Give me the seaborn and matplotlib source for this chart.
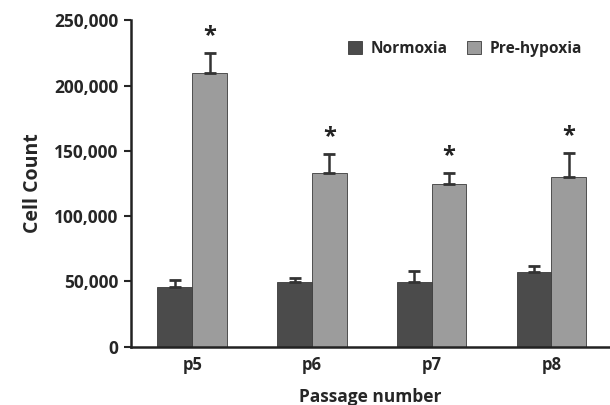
import numpy as np
import pandas as pd
import matplotlib
matplotlib.use("Agg")
import matplotlib.pyplot as plt
import seaborn as sns

passages = ["p5", "p6", "p7", "p8"]
groups = ["Normoxia", "Pre-hypoxia"]
normoxia = [45500, 49800, 49300, 57400]
normoxia_err = [5500, 3000, 8700, 4400]
prehypoxia = [209300, 133200, 124600, 129700]
prehypoxia_err = [15700, 14300, 8600, 18400]
yticks = [0, 50000, 100000, 150000, 200000, 250000]

sns.set_theme(style="white")
plt.rcParams['font.family'] = ['Open Sans', 'DejaVu Sans']
plt.rcParams['font.weight'] = 'bold'

df = pd.DataFrame({
    "passage": passages * 2,
    "group": [groups[0]] * 4 + [groups[1]] * 4,
    "count": normoxia + prehypoxia,
})

fig = plt.figure(figsize=(6.1, 4.05), dpi=100)
ax = fig.add_axes([0.215, 0.144, 0.785, 0.806])
sns.barplot(x="passage", y="count", hue="group", data=df, errorbar=None,
            palette=["#4b4b4b", "#9c9c9c"], width=0.58, saturation=1,
            edgecolor="#3a3a3a", linewidth=0.6, ax=ax)

errs = [normoxia_err, prehypoxia_err]
for cont, err in zip(ax.containers, errs):
    for bar, e in zip(cont, err):
        cx = bar.get_x() + bar.get_width() / 2
        h = bar.get_height()
        ax.errorbar(cx, h, yerr=[[0], [e]], fmt="none", ecolor="#333333",
                    elinewidth=1.8, capsize=4, capthick=2)
        if cont is ax.containers[1]:
            ax.text(cx, h + e + 13000, "*", ha="center", va="center",
                    fontsize=17, fontweight="bold", color="#222222")

ax.set_ylim(0, 250000)
ax.set_xlim(-0.51, 3.49)
ax.set_yticks(yticks)
ax.set_yticklabels([f"{v:,}" for v in yticks], fontsize=12.5, fontweight="bold")
ax.set_xticklabels(passages, fontsize=12, fontweight="bold")
ax.tick_params(axis="y", direction="out", length=5, width=1.5, left=True, pad=4)
ax.tick_params(axis="x", length=0, pad=7)
for s in ["top", "right"]:
    ax.spines[s].set_visible(False)
for s in ["left", "bottom"]:
    ax.spines[s].set_linewidth(1.8)
    ax.spines[s].set_color("#222222")

ax.set_ylabel("Cell Count", fontsize=14, fontweight="bold", labelpad=8)
ax.set_xlabel("Passage number", fontsize=12.5, fontweight="bold", labelpad=10)

leg = ax.legend(loc="upper right", bbox_to_anchor=(0.97, 0.98), ncol=2, frameon=False,
                handlelength=0.9, handleheight=0.9, columnspacing=1.3,
                handletextpad=0.5, prop={"weight": "bold", "size": 11.2})

fig.savefig("out.png", dpi=100)
